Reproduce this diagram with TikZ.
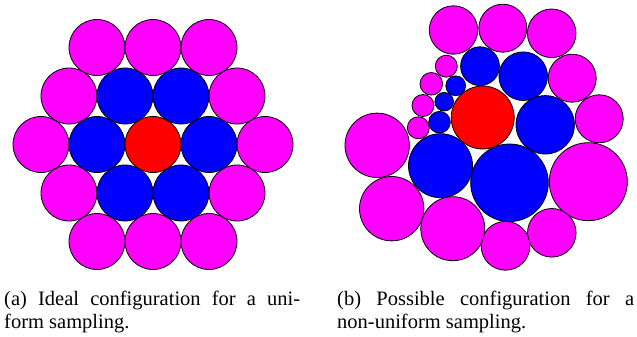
\documentclass[tikz,border=0pt]{standalone}
\usepackage{fontspec}
\setmainfont{Liberation Serif}
\usepackage{tikz}
\definecolor{pinkdisc}{RGB}{255,0,255}
\definecolor{bluedisc}{RGB}{0,0,255}
\definecolor{reddisc}{RGB}{255,0,0}

\begin{document}
\begin{tikzpicture}[x=1pt,y=-1pt,
disc/.style={draw,line width=0.8pt},
outer/.style={disc,fill=pinkdisc},
inner/.style={disc,fill=bluedisc},
core/.style={disc,fill=reddisc},
subcap/.style={anchor=base west,inner sep=0pt,align=left,font=\fontsize{20.5}{23}\selectfont}]
\useasboundingbox (0,0) rectangle (637,337);
% (a) uniform sampling
\coordinate (ca) at (153,144.5);
\foreach \a in {0,60,...,300} {
  \draw[outer] (ca) ++(\a:112) circle (28);
  \draw[outer] (ca) ++(\a+30:97) circle (28);
  \draw[inner] (ca) ++(\a:56) circle (28);
}
\draw[core] (ca) circle (28);
% (b) non-uniform sampling
\foreach \x/\y/\r in {453.5/30/24.2, 502.8/28.2/24, 551.7/33.3/24.3, 572.2/78.2/24,
  599.2/118.8/24, 588.3/181.7/39, 551.8/232.8/24.3, 505.5/245.8/24.4,
  452.8/228.7/32, 391.7/208.7/32.2, 377.2/145.3/32.2,
  418.3/127.8/11, 423/105.5/11, 431.3/83.8/11.3, 446.3/66.2/11}
  \draw[outer] (\x,\y) circle (\r);
\foreach \x/\y/\r in {480/66.2/19.4, 523.2/76.2/24.3, 545.2/124.8/29.2,
  509.5/182.8/38.8, 440.5/165.7/32, 439.5/122.2/10.8, 444.2/101.7/9.3,
  455.7/85.8/9.9}
  \draw[inner] (\x,\y) circle (\r);
\coordinate (cb) at (482.7,117.5);
\draw[core] (cb) circle (31.5);
% captions
\node[subcap] (capa) at (4,328.5) {\makebox[296pt][s]{(a) Ideal configuration for a uni-}\\form sampling.};
\node[subcap] (capb) at (337,328.5) {\makebox[297pt][s]{(b) Possible configuration for a}\\non-uniform sampling.};
\end{tikzpicture}
\end{document}
